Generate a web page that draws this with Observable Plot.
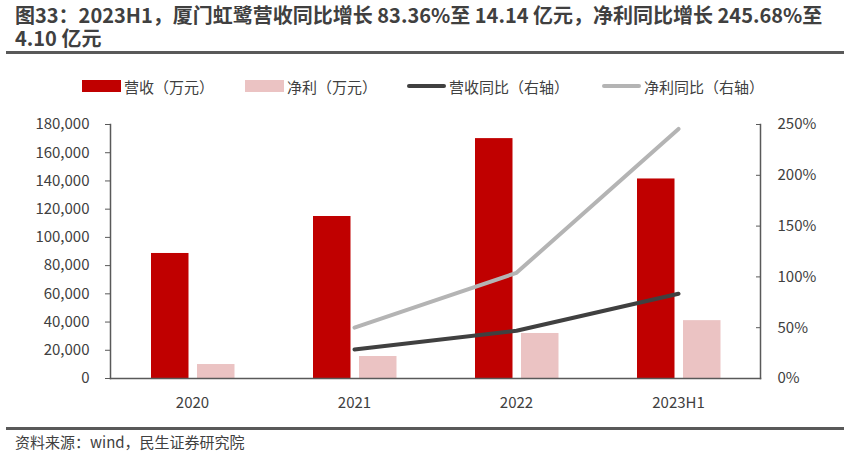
<!DOCTYPE html>
<html><head><meta charset="utf-8">
<script src="https://cdn.jsdelivr.net/npm/d3@7"></script>
<script src="https://cdn.jsdelivr.net/npm/@observablehq/plot@0.6"></script>
<style>
body{margin:0;background:#fff;font-family:"Noto Sans CJK SC","Noto Sans",sans-serif;color:#404040;width:849px;height:456px;overflow:hidden;position:relative}
#title{position:absolute;left:15px;top:3px;font-size:20px;font-weight:bold;line-height:23px;color:#404040;white-space:nowrap}
.rule{position:absolute;left:6px;width:838px;height:3px;background:#595959}
#legend{position:absolute;top:76px;left:0;width:849px;height:20px;font-size:15px;color:#404040}
.item{position:absolute;top:0;display:flex;align-items:center;height:20px}
.sw{display:inline-block;margin-right:3px}
#chart{position:absolute;left:0;top:105px}
#source{position:absolute;left:15px;top:432px;font-size:15px;line-height:20px;color:#404040}
</style></head><body>
<div id="title">图33：2023H1，厦门虹鹭营收同比增长 83.36%至 14.14 亿元，净利同比增长 245.68%至<br>4.10 亿元</div>
<div class="rule" style="top:51px"></div>
<div id="legend"></div>
<div id="chart"></div>
<div class="rule" style="top:427px"></div>
<div id="source">资料来源：wind，民生证券研究院</div>
<script>
const years = ["2020", "2021", "2022", "2023H1"];
const revenue = [88600, 114800, 170000, 141400];
const netProfit = [9900, 15600, 31900, 41000];
const lineYears = ["2021", "2022", "2023H1"];
const revenueYoY = [28.5, 47, 83.36];
const profitYoY = [50, 104, 245.68];
const leftTicks = [0, 20000, 40000, 60000, 80000, 100000, 120000, 140000, 160000, 180000];
const rightTicks = [0, 50, 100, 150, 200, 250];
const seriesNames = ["营收（万元）", "净利（万元）", "营收同比（右轴）", "净利同比（右轴）"];
const colors = ["#C00000", "#EBC3C3", "#404040", "#B4B4B4"];

const k = 180000 / 250;
const barData = years.map((y, i) => ({year: y, rev: revenue[i], net: netProfit[i]}));
const lineData = lineYears.map((y, i) => ({year: y, r: revenueYoY[i] * k, p: profitYoY[i] * k}));

const chart = Plot.plot({
  width: 849, height: 310,
  marginLeft: 110, marginRight: 89, marginTop: 19, marginBottom: 37,
  style: {fontFamily: '"Noto Sans CJK SC","Noto Sans",sans-serif', fontSize: "15px", color: "#404040", background: "transparent"},
  x: {domain: years, padding: 0, label: null},
  y: {domain: [0, 180000], label: null},
  marks: [
    Plot.barY(barData, {x: "year", y: "rev", fill: colors[0], insetLeft: 40, insetRight: 84.5}),
    Plot.barY(barData, {x: "year", y: "net", fill: colors[1], insetLeft: 86, insetRight: 38.5}),
    Plot.line(lineData, {x: "year", y: "p", stroke: colors[3], strokeWidth: 4}),
    Plot.line(lineData, {x: "year", y: "r", stroke: colors[2], strokeWidth: 4}),
    Plot.axisX({tickSize: 0, tickPadding: 19, label: null, fontSize: 15}),
    Plot.axisY({ticks: leftTicks, tickFormat: d3.format(","), tickSize: 5, tickPadding: 16, label: null, stroke: "#595959"}),
    Plot.axisY({anchor: "right", ticks: rightTicks.map(v => v * k), tickFormat: d => Math.round(d / k) + "%", tickSize: -5, tickPadding: 22, label: null, stroke: "#595959"}),
    Plot.frame({anchor: "left", stroke: "#595959", strokeWidth: 1.5}),
    Plot.frame({anchor: "right", stroke: "#595959", strokeWidth: 1.5}),
    Plot.frame({anchor: "bottom", stroke: "#595959", strokeWidth: 1.5})
  ]
});
document.getElementById("chart").appendChild(chart);

const legend = document.getElementById("legend");
const pos = [82, 245, 407, 602];
seriesNames.forEach((name, i) => {
  const it = document.createElement("div");
  it.className = "item";
  it.style.left = pos[i] + "px";
  const sw = document.createElement("span");
  sw.className = "sw";
  sw.style.width = "39px";
  sw.style.height = i < 2 ? "12px" : "4px";
  sw.style.background = colors[i];
  if (i >= 2) sw.style.borderRadius = "2px";
  it.appendChild(sw);
  const t = document.createElement("span");
  t.textContent = name;
  it.appendChild(t);
  legend.appendChild(it);
});
</script>
</body></html>
